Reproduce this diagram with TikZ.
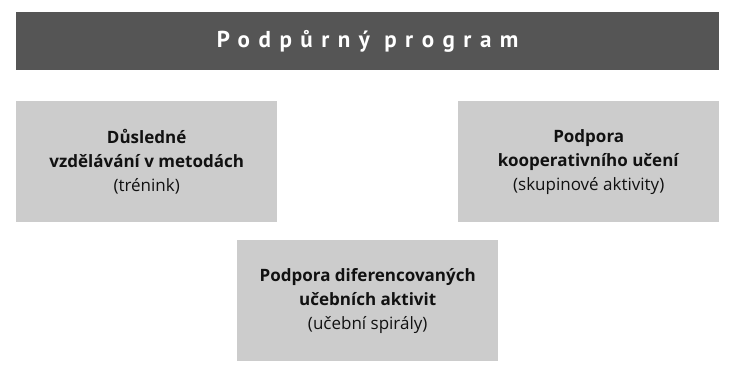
\documentclass[tikz,border=0pt]{standalone}
\usepackage{fontspec}
\setmainfont{Open Sans}
\newfontfamily\headfont{PT Sans}
\definecolor{barfill}{HTML}{555555}
\definecolor{boxfill}{HTML}{CCCCCC}
\definecolor{ink}{HTML}{111111}
\tikzset{
  titlebar/.style={fill=barfill, text=white, inner sep=0pt, anchor=north west,
    minimum width=703pt, minimum height=58pt,
    font=\headfont\fontsize{23}{24}\selectfont\bfseries\addfontfeatures{LetterSpace=37}},
  topicbox/.style={fill=boxfill, text=ink, inner sep=0pt, anchor=north west,
    minimum width=261pt, minimum height=121pt, align=center,
    font=\fontsize{17}{24}\selectfont}
}
\begin{document}
\begin{tikzpicture}[x=1pt,y=-1pt]
  \path[use as bounding box] (0,0) rectangle (735,379);
  % heading bar
  \node[titlebar] (head) at (16,12) {Podpůrný program};
  % the three areas of support
  \node[topicbox] (training) at (16,101)
    {\textbf{Důsledné}\\\textbf{vzdělávání v metodách}\\(trénink)};
  \node[topicbox] (coop) at (458,101)
    {\textbf{Podpora}\\\textbf{kooperativního učení}\\(skupinové aktivity)};
  \node[topicbox] (diff) at (237,240)
    {\textbf{Podpora diferencovaných}\\\textbf{učebních aktivit}\\(učební spirály)};
\end{tikzpicture}
\end{document}
